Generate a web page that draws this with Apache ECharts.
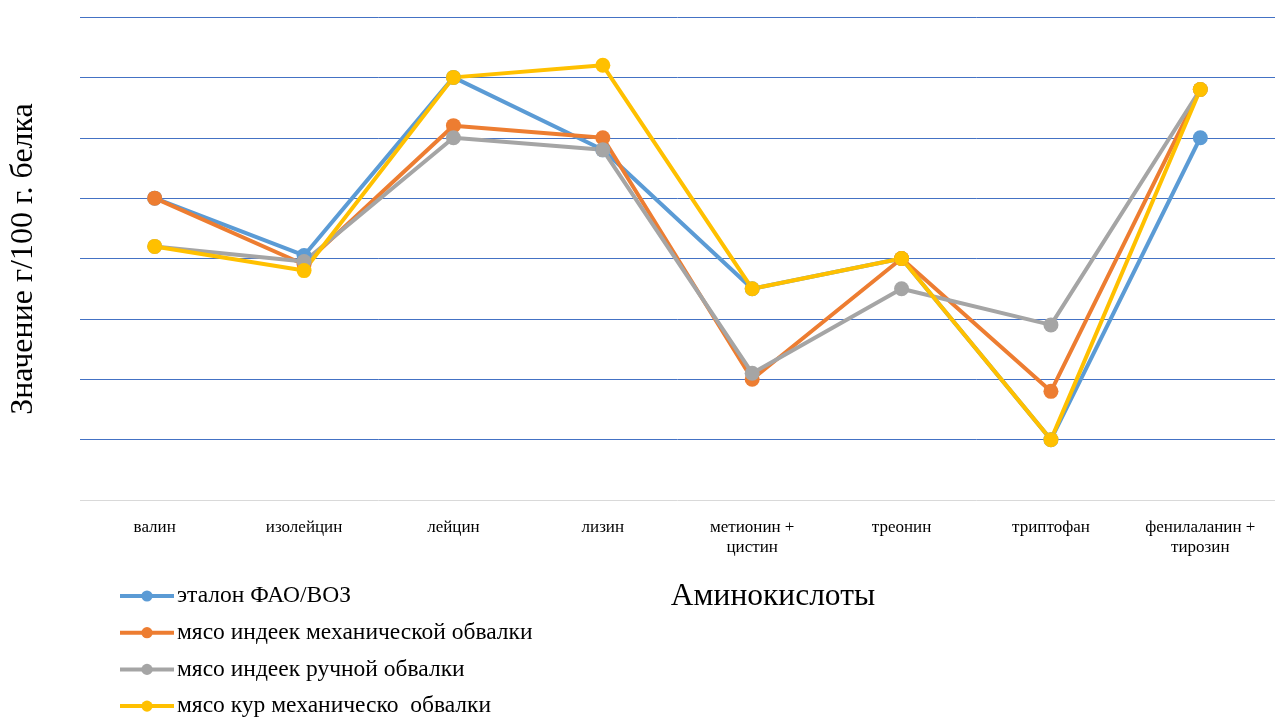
<!DOCTYPE html>
<html>
<head>
<meta charset="utf-8">
<script src="https://cdn.jsdelivr.net/npm/echarts@6/dist/echarts.min.js"></script>
<style>
  html, body { margin: 0; padding: 0; background: #fff; overflow: hidden; }
  #chart { width: 1275px; height: 718px; }
</style>
</head>
<body>
<div id="chart"></div>
<script>
// Amino acid content, g per 100 g of protein
const categories = ['валин', 'изолейцин', 'лейцин', 'лизин', 'метионин +\nцистин', 'треонин', 'триптофан', 'фенилаланин +\nтирозин'];
const faoWho      = [5.0, 4.05, 7.0, 5.8, 3.5, 4.0, 1.0, 6.0];
const turkeyMech  = [5.0, 3.9, 6.2, 6.0, 2.0, 4.0, 1.8, 6.8];
const turkeyHand  = [4.2, 3.95, 6.0, 5.8, 2.1, 3.5, 2.9, 6.8];
const chickenMech = [4.2, 3.8, 7.0, 7.2, 3.5, 4.0, 1.0, 6.8];
const seriesNames = ['эталон ФАО/ВОЗ', 'мясо индеек механической обвалки', 'мясо индеек ручной обвалки', 'мясо кур механическо  обвалки'];

const colors = ['#5B9BD5', '#ED7D31', '#A5A5A5', '#FFC000'];
const serif = '"Liberation Serif", "DejaVu Serif", serif';

function line(name, data, color) {
  return {
    name: name,
    type: 'line',
    data: data,
    symbol: 'circle',
    symbolSize: 15,
    lineStyle: { width: 4, color: color },
    itemStyle: { color: color },
    emphasis: { disabled: true }
  };
}

// one legend row per series, stacked under the plot
const legendRowTop = [584, 620.7, 657.4, 694.1];
const legends = seriesNames.map(function (name, i) {
  return {
    data: [name],
    left: 118,
    top: legendRowTop[i],
    padding: 0,
    itemWidth: 54,
    itemHeight: 14,
    lineStyle: { width: 4 },
    textStyle: { fontFamily: serif, fontSize: 23.5, color: '#000', padding: [0, 0, 0, -2] }
  };
});

const chart = echarts.init(document.getElementById('chart'));
chart.setOption({
  animation: false,
  color: colors,
  grid: { left: 80, width: 1203, top: 17, bottom: 218 },
  xAxis: {
    type: 'category',
    data: categories,
    boundaryGap: true,
    axisLine: { show: false },
    axisTick: { show: false },
    axisLabel: {
      margin: 18,
      fontFamily: serif,
      fontSize: 17,
      color: '#000',
      lineHeight: 20,
      interval: 0
    }
  },
  yAxis: {
    type: 'value',
    min: 0,
    max: 8,
    interval: 1,
    axisLine: { show: false },
    axisTick: { show: false },
    axisLabel: { show: false },
    splitLine: {
      lineStyle: {
        width: 1,
        color: ['#D9D9D9', '#4472C4', '#4472C4', '#4472C4', '#4472C4', '#4472C4', '#4472C4', '#4472C4', '#4472C4']
      }
    }
  },
  legend: legends,
  graphic: [
    {
      type: 'text',
      x: 24,
      y: 259,
      rotation: Math.PI / 2,
      style: {
        text: 'Значение г/100 г. белка',
        font: '32px ' + serif,
        fill: '#000',
        textAlign: 'center',
        textVerticalAlign: 'middle'
      }
    },
    {
      type: 'text',
      x: 773,
      y: 597,
      style: {
        text: 'Аминокислоты',
        font: '31.5px ' + serif,
        fill: '#000',
        textAlign: 'center',
        textVerticalAlign: 'middle'
      }
    }
  ],
  series: [
    line(seriesNames[0], faoWho, colors[0]),
    line(seriesNames[1], turkeyMech, colors[1]),
    line(seriesNames[2], turkeyHand, colors[2]),
    line(seriesNames[3], chickenMech, colors[3])
  ]
});
</script>
</body>
</html>
